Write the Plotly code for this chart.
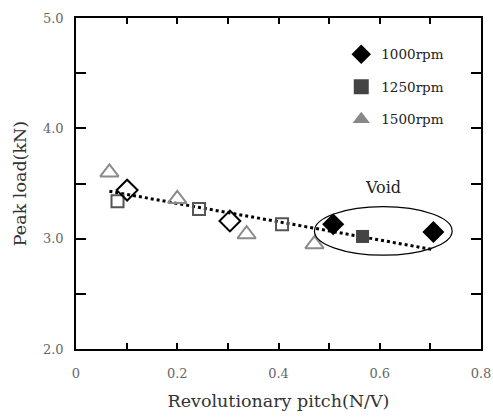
import plotly.graph_objects as go

# data
tri_x = [0.066, 0.200, 0.337, 0.471]
tri_y = [3.60, 3.36, 3.04, 2.95]
dia_open_x = [0.101, 0.304]
dia_open_y = [3.44, 3.16]
sq_open_x = [0.082, 0.243, 0.407]
sq_open_y = [3.34, 3.27, 3.13]
dia_fill_x = [0.508, 0.706]
dia_fill_y = [3.13, 3.06]
sq_fill_x = [0.566]
sq_fill_y = [3.02]
trend_x = [0.066, 0.706]
trend_y = [3.43, 2.90]
void_x = [0.471, 0.743]
void_y = [2.85, 3.29]
legend_names = ["1000rpm", "1250rpm", "1500rpm"]
x_ticks = [0, 0.1, 0.2, 0.3, 0.4, 0.5, 0.6, 0.7, 0.8]
x_ticktext = ["0", "", "0.2", "", "0.4", "", "0.6", "", "0.8"]
y_ticks = [2.0, 2.5, 3.0, 3.5, 4.0, 4.5, 5.0]
y_ticktext = ["2.0", "", "3.0", "", "4.0", "", "5.0"]

FONT = "DejaVu Serif"
fig = go.Figure()

fig.add_trace(go.Scatter(x=trend_x, y=trend_y, mode="lines",
                         line=dict(color="black", width=3, dash="dot"), showlegend=False))
fig.add_trace(go.Scatter(x=tri_x, y=tri_y, mode="markers", showlegend=False,
                         marker=dict(symbol="triangle-up-open", size=16, color="#8a8a8a", line=dict(width=2))))
fig.add_trace(go.Scatter(x=sq_open_x, y=sq_open_y, mode="markers", showlegend=False,
                         marker=dict(symbol="square-open", size=12, color="#555555", line=dict(width=2))))
fig.add_trace(go.Scatter(x=dia_open_x, y=dia_open_y, mode="markers", showlegend=False,
                         marker=dict(symbol="diamond-open", size=16, color="black", line=dict(width=2))))
fig.add_trace(go.Scatter(x=dia_fill_x, y=dia_fill_y, mode="markers", showlegend=False,
                         marker=dict(symbol="diamond", size=17, color="black")))
fig.add_trace(go.Scatter(x=sq_fill_x, y=sq_fill_y, mode="markers", showlegend=False,
                         marker=dict(symbol="square", size=13, color="#444444")))

leg_styles = [("diamond", "black"), ("square", "#444444"), ("triangle-up", "#888888")]
for i, (name, (sym, col)) in enumerate(zip(legend_names, leg_styles)):
    fig.add_trace(go.Scatter(x=[None], y=[None], mode="markers", name=name,
                             legendgroup=str(i),
                             marker=dict(symbol=sym, size=15, color=col)))

fig.add_shape(type="circle", xref="x", yref="y",
              x0=void_x[0], x1=void_x[1], y0=void_y[0], y1=void_y[1],
              line=dict(color="black", width=1.2))
fig.add_annotation(x=0.607, y=3.46, text="Void", showarrow=False,
                   font=dict(family=FONT, size=16, color="#222"))

axis_common = dict(showline=True, linecolor="black", linewidth=1.5, mirror="ticks",
                   ticks="inside", tickcolor="black", tickwidth=1.5, showgrid=False,
                   zeroline=False, tickfont=dict(family=FONT, size=13, color="#666"))
fig.update_xaxes(range=[0, 0.8], tickvals=x_ticks, ticktext=x_ticktext, ticklen=6,
                 ticklabelstandoff=12, ticklabeloverflow="allow",
                 title=dict(text="Revolutionary pitch(N/V)", font=dict(family=FONT, size=17.5, color="#333"),
                            standoff=14),
                 **axis_common)
fig.update_yaxes(range=[2.0, 5.0], tickvals=y_ticks, ticktext=y_ticktext, ticklen=10,
                 ticklabelstandoff=8,
                 title=dict(text="Peak load(kN)", font=dict(family=FONT, size=17.5, color="#333"),
                            standoff=12),
                 **axis_common)

fig.update_layout(
    width=493, height=417,
    margin=dict(l=76, r=12, t=18, b=68, autoexpand=False),
    plot_bgcolor="white", paper_bgcolor="white",
    legend=dict(x=0.655, y=0.937, xanchor="left", yanchor="top", bgcolor="rgba(0,0,0,0)",
                font=dict(family=FONT, size=13.5, color="#222"), tracegroupgap=12,
                itemwidth=30),
)

fig.write_html("out.html")
